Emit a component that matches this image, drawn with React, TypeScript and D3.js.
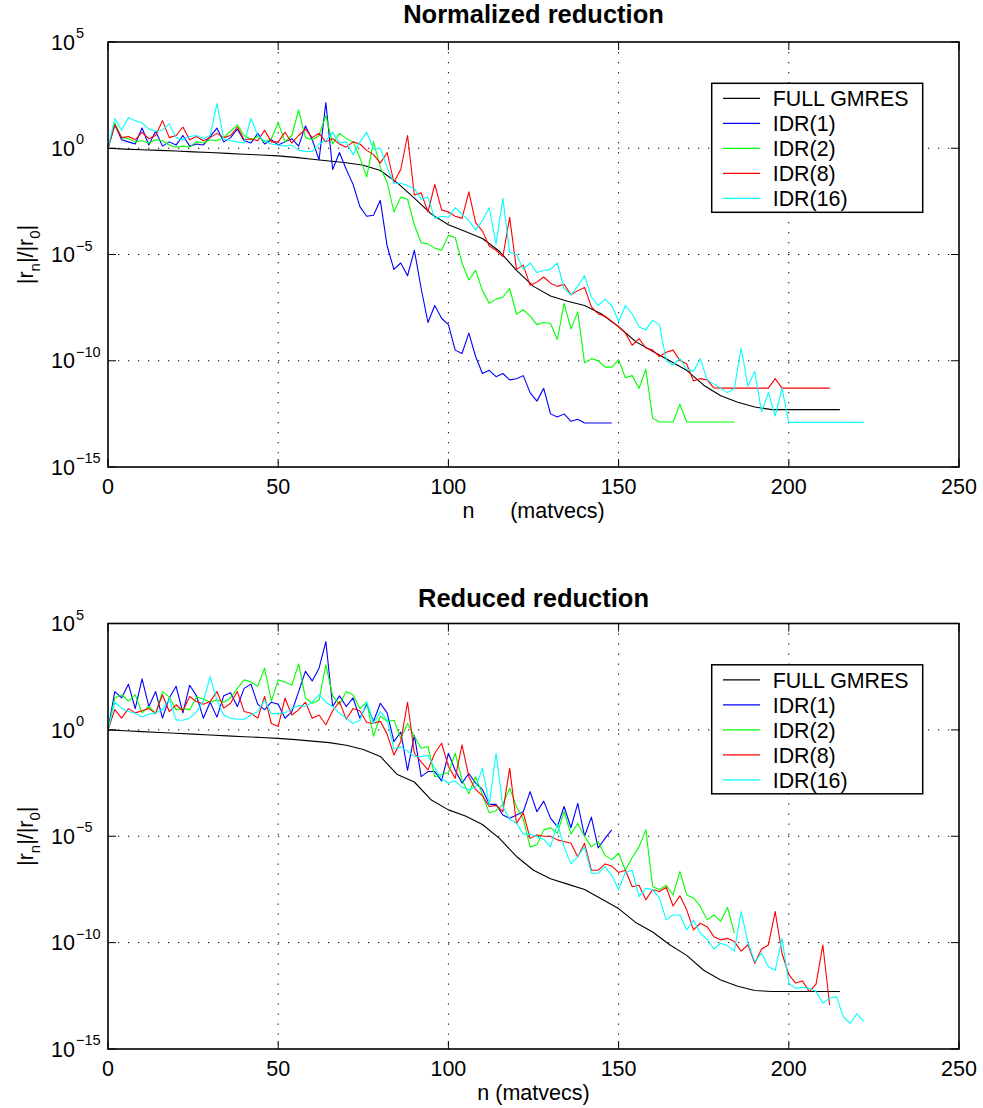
import React from 'react';
import * as d3 from 'd3';

// ---------- data (log10 of |r_n|/|r_0|) ----------
const IDR_STEP = 2; // matvecs between stored IDR samples
const GMRES_STEP = 5; // matvecs between stored GMRES samples

const titles = ['Normalized reduction', 'Reduced reduction'];
const xLabels = ['n      (matvecs)', 'n (matvecs)'];
const xTicks = [0, 50, 100, 150, 200, 250];
const yTickExps = [5, 0, -5, -10, -15];
const xGrid = [50, 100, 150, 200];
const yGridExps = [0, -5, -10];
const seriesNames = ['FULL GMRES', 'IDR(1)', 'IDR(2)', 'IDR(8)', 'IDR(16)'];
const seriesColors = ['#000000', '#0000ff', '#00ff00', '#ff0000', '#00ffff'];

// ---- top panel ----
const gmresTop = [
  0, -0.04, -0.07, -0.1, -0.13, -0.17, -0.2, -0.24, -0.28, -0.32,
  -0.36, -0.43, -0.52, -0.6, -0.68, -0.8, -1.05, -1.63, -2.35, -3.1,
  -3.6, -3.92, -4.25, -4.85, -5.75, -6.5, -6.95, -7.2, -7.4, -7.8,
  -8.4, -9.1, -9.55, -10.0, -10.45, -11.15, -11.65, -11.95, -12.18, -12.3,
  -12.3, -12.3, -12.3, -12.3,
];
const idr1Top = [
  0, 1.1, 0.4, 0.3, 0.2, 0.95, 0.15, 0.8, 0.1, 0.3,
  0.15, 0.6, 0.1, 0.2, 0.15, 0.55, 0.95, 0.3, 0.5, 0.9,
  0.35, 0.25, 0.7, 0.2, 0.4, 0.15, 0.3, 0.45, 0.1, 1.05,
  0.4, -0.55, 2.15, -1.0, -0.2, -1.0, -1.7, -2.75, -3.2, -3.15,
  -2.45, -4.6, -5.7, -5.4, -6.0, -4.8, -6.6, -8.2, -7.4, -8.0,
  -8.3, -9.5, -9.66, -8.7, -9.8, -10.6, -10.45, -10.75, -10.6, -10.9,
  -10.85, -10.7, -11.5, -11.9, -11.3, -12.5, -12.65, -12.5, -12.85, -12.75,
  -12.93, -12.93, -12.93, -12.93, -12.93,
];
const idr2Top = [
  0, 1.2, 0.5, 0.45, 0.3, 0.35, 0.25, 0.4, 0.35, 0.15,
  0.05, 0.1, 0.05, 0.3, 0.25, 0.4, 0.35, 0.5, 0.8, 1.1,
  0.6, 0.4, 0.55, 0.3, 0.45, 1.2, 0.3, 0.6, 1.8, 0.5,
  0.4, 0.6, 1.55, 0.2, 0.7, 0.45, 0.3, -0.45, -1.35, 0.3,
  -0.9, -1.6, -3.0, -2.3, -2.4, -3.6, -4.45, -4.5, -4.7, -4.8,
  -4.1, -4.2, -5.4, -6.2, -5.75, -6.7, -7.3, -7.1, -7.0, -6.6,
  -7.8, -7.6, -7.9, -8.3, -8.2, -8.25, -9.0, -7.3, -8.5, -7.7,
  -10.1, -9.9, -10.0, -10.3, -10.3, -9.95, -10.8, -10.7, -11.3, -10.4,
  -12.7, -12.88, -12.88, -12.88, -12.05, -12.88, -12.88, -12.88, -12.88, -12.88,
  -12.88, -12.88, -12.88,
];
const idr8Top = [
  0, 1.1, 0.5, 0.55, 0.4, 0.75, 0.45, 0.6, 1.3, 0.5,
  0.6, 1.0, 0.4, 0.55, 0.35, 0.5, 0.7, 0.5, 0.6, 1.0,
  0.4, 0.45, 0.35, 0.85, 0.3, 0.3, 0.75, 0.25, 0.6, 0.9,
  0.5, 0.7, 0.3, 0.45, 0.2, 0.05, 0.3, 0.2, -0.1, -0.3,
  -0.7, -0.2, -1.6, -1.0, 0.6, -2.2, -2.1, -3.0, -1.7, -2.9,
  -3.0, -3.2, -3.3, -2.05, -3.5, -3.9, -4.6, -4.8, -5.1, -3.25,
  -5.7, -5.5, -6.45, -6.3, -6.06, -6.35, -6.5, -6.4, -6.9, -6.7,
  -6.55, -7.45, -7.8, -7.9, -8.15, -8.4, -8.7, -9.27, -8.96, -9.4,
  -9.5, -9.8, -9.6, -9.5, -9.98, -10.15, -10.95, -10.84, -10.9, -11.28,
  -11.29, -11.29, -11.29, -11.29, -11.29, -11.29, -11.29, -11.29, -10.84, -11.29,
  -11.29, -11.29, -11.29, -11.29, -11.29, -11.29, -11.29,
];
const idr16Top = [
  0, 1.4, 0.85, 1.45, 1.3, 1.2, 0.9, 0.8, 0.85, 1.15,
  0.5, 0.4, 0.55, 0.6, 0.45, 0.6, 2.1, 0.45, 0.35, 0.3,
  0.25, 1.4, 0.6, 0.35, 0.2, 0.15, 0.1, 0.15, -0.1, -0.15,
  -0.15, 0.2, 0.35, 0.75, 0.25, 0.3, -0.3, 0.3, 0.75, -0.05,
  0.0, -0.9, -1.65, -1.65, -1.75, -1.9, -2.4, -2.3, -3.3, -3.2,
  -3.25, -2.8, -3.1, -3.4, -3.85, -3.4, -2.8, -4.5, -2.35, -4.9,
  -5.0, -5.7, -5.4, -5.85, -5.75, -5.7, -5.4, -6.6, -6.9, -6.5,
  -6.0, -7.0, -7.4, -7.1, -7.4, -8.15, -7.4, -7.8, -8.4, -8.55,
  -8.1, -8.3, -10.0, -10.2, -9.9, -10.4, -10.5, -9.9, -10.9, -11.1,
  -11.3, -11.5, -11.3, -9.4, -11.2, -10.5, -12.4, -11.5, -12.6, -11.3,
  -12.9, -12.9, -12.9, -12.9, -12.9, -12.9, -12.9, -12.9, -12.9, -12.9,
  -12.9, -12.9,
];

// ---- bottom panel ----
const gmresBot = [
  0, -0.04, -0.08, -0.12, -0.16, -0.2, -0.24, -0.28, -0.32, -0.36,
  -0.4, -0.46, -0.53, -0.6, -0.72, -0.92, -1.25, -2.1, -2.45, -3.3,
  -3.76, -4.05, -4.45, -5.1, -5.95, -6.6, -7.0, -7.25, -7.5, -7.95,
  -8.4, -9.05, -9.5, -10.1, -10.6, -11.3, -11.76, -12.05, -12.25, -12.3,
  -12.3, -12.3, -12.3, -12.3,
];
const idr1Bot = [
  0, 1.8, 1.5, 2.15, 1.0, 2.4, 1.1, 1.8, 0.55, 1.5,
  2.05, 0.8, 2.1, 1.6, 0.55, 1.3, 0.6, 1.6, 1.75, 1.1,
  1.95, 2.15, 1.2, 0.95, 1.3, 1.2, 0.55, 0.85, 1.8, 2.75,
  2.3, 2.9, 4.15, 1.1, 1.6, 1.1, 1.5, 0.55, 1.2, 0.4,
  1.25, 0.8, -0.55, -0.1, -1.9, -0.25, -2.2, -1.96, -1.96, -2.4,
  -1.1, -1.9, -2.5, -2.05, -2.5, -2.8, -3.5, -3.5, -4.0, -4.15,
  -4.0, -3.85, -2.9, -3.85, -3.35, -4.15, -4.55, -3.6, -4.6, -3.45,
  -5.0, -4.1, -5.55, -5.1, -4.7,
];
const idr2Bot = [
  0, 1.5, 1.65, 1.35, 1.65, 0.8, 1.1, 0.75, 1.8, 1.55,
  0.95, 1.0, 0.95, 1.55, 1.45, 1.3, 1.4, 1.3, 1.5, 1.95,
  2.35, 2.25, 2.05, 2.9, 1.35, 2.35, 2.25, 2.1, 3.1, 1.5,
  1.25, 1.4, 3.05, 1.6, 1.2, 1.8, 1.65, 1.0, 1.3, -0.3,
  0.65, 0.4, 0.45, -0.4, 0.3, -0.3, -0.86, -0.78, -2.2, -2.1,
  -2.0, -1.1, -2.35, -3.0, -2.2, -3.05, -3.9, -3.8, -3.5, -2.75,
  -3.6, -4.2, -5.5, -5.4, -4.7, -4.6, -4.85, -3.85, -4.9, -4.4,
  -5.0, -5.5, -5.25, -5.9, -6.1, -5.8, -6.6, -6.0, -5.5, -4.7,
  -7.37, -7.5, -7.3, -7.76, -6.66, -7.76, -7.9, -8.3, -8.93, -8.7,
  -9.0, -8.34, -9.56,
];
const idr8Bot = [
  0, 0.95, 0.55, 1.0, 0.8, 0.9, 1.0, 0.78, 1.65, 0.86,
  1.18, 0.9, 1.57, 1.33, 1.2, 1.33, 1.8, 1.02, 1.25, 1.8,
  0.86, 0.78, 0.55, 1.57, 0.3, 0.16, 1.49, 0.7, 0.94, 1.3,
  0.55, 0.7, 0.24, 0.9, 1.33, 0.5, 1.0, 0.9, 0.35, 0.31,
  0.4, -0.2, -1.18, -0.55, 1.3, -1.1, -1.5, -1.88, -1.1, -0.63,
  -1.72, -2.27, -0.7, -2.2, -2.8, -3.1, -3.6, -3.55, -3.84, -1.8,
  -4.4, -3.9, -5.1, -4.94, -5.0, -5.0, -5.17, -5.25, -5.33, -5.96,
  -5.33, -6.6, -6.6, -6.3, -6.4, -6.7, -6.6, -7.37, -7.3, -7.99,
  -7.5, -7.6, -7.4, -8.28, -7.8, -8.46, -9.4, -9.09, -9.25, -9.72,
  -9.87, -9.8, -9.95, -10.4, -10.1, -10.97, -10.3, -10.11, -8.54, -10.5,
  -11.5, -11.9, -11.8, -12.3, -11.95, -10.11, -12.93,
];
const idr16Bot = [
  0, 1.3, 1.02, 0.86, 0.78, 0.6, 0.75, 0.8, 0.95, 1.45,
  0.47, 0.45, 0.55, 0.85, 1.35, 2.5, 1.4, 0.7, 0.55, 0.5,
  0.5, 0.7, 0.86, 1.4, 0.75, 0.78, 0.8, 1.0, 1.15, 1.1,
  1.3, 1.65, 1.3, 1.1, 0.78, 0.55, 0.3, 0.45, 1.33, 0.3,
  0.86, 0.47, -0.9, -0.8, -1.0, -1.25, -1.25, -1.2, -1.8, -2.3,
  -2.5, -2.4, -2.7, -2.8, -2.7, -1.8, -3.53, -1.1, -3.6, -4.2,
  -4.39, -4.9, -4.9, -5.02, -5.15, -5.5, -4.4, -5.5, -6.3, -5.96,
  -5.5, -6.74, -6.74, -6.43, -6.85, -7.5, -6.7, -6.6, -7.84, -7.45,
  -7.5, -7.92, -8.93, -8.7, -8.7, -9.4, -8.95, -9.56, -9.85, -10.3,
  -10.03, -10.15, -10.4, -8.54, -10.0, -10.9, -10.5, -11.13, -11.3, -9.8,
  -11.91, -12.15, -12.1, -12.15, -12.3, -12.85, -12.6, -12.54, -13.48, -13.79,
  -13.35, -13.7,
];

// ---------- layout ----------
const W = 983;
const H = 1108;
const PLOT_LEFT = 108;
const PLOT_RIGHT = 959;
const FONT = "'Liberation Sans', Arial, Helvetica, sans-serif";

const panels = [
  {
    top: 42, bottom: 467, titleY: 23.3, title: titles[0], xLabel: xLabels[0],
    series: [gmresTop, idr1Top, idr2Top, idr8Top, idr16Top],
  },
  {
    top: 623.5, bottom: 1049, titleY: 606.5, title: titles[1], xLabel: xLabels[1],
    series: [gmresBot, idr1Bot, idr2Bot, idr8Bot, idr16Bot],
  },
];

function supText(e: number) {
  return e < 0 ? '\u2212' + String(-e) : String(e);
}

function Panel({ p }: { p: typeof panels[number] }) {
  const x = d3.scaleLinear().domain([0, 250]).range([PLOT_LEFT, PLOT_RIGHT]);
  const y = d3.scaleLog().domain([1e-15, 1e5]).range([p.bottom, p.top]);
  const cx = (PLOT_LEFT + PLOT_RIGHT) / 2;
  const cy = (p.top + p.bottom) / 2;
  const tickLen = 8;

  const mkLine = (step: number) =>
    d3
      .line<number>()
      .x((_d, i) => x(i * step))
      .y((d) => y(Math.pow(10, d)));

  const legX = PLOT_RIGHT - 247.3;
  const legY = p.top + 41.3;
  const legW = 211;
  const legH = 129;

  return (
    <g>
      {/* title */}
      <text x={cx} y={p.titleY} textAnchor="middle" fontFamily={FONT} fontWeight="bold" fontSize={25.5}>
        {p.title}
      </text>

      {/* grid */}
      {xGrid.map((v) => (
        <line key={'gx' + v} x1={x(v)} x2={x(v)} y1={p.top} y2={p.bottom}
          stroke="#000" strokeWidth={1} strokeDasharray="1.3,8.7" />
      ))}
      {yGridExps.map((e) => (
        <line key={'gy' + e} x1={PLOT_LEFT} x2={PLOT_RIGHT} y1={y(Math.pow(10, e))} y2={y(Math.pow(10, e))}
          stroke="#000" strokeWidth={1} strokeDasharray="1.3,8.7" />
      ))}

      {/* ticks */}
      {xTicks.map((v) => (
        <g key={'tx' + v}>
          <line x1={x(v)} x2={x(v)} y1={p.bottom} y2={p.bottom - tickLen} stroke="#000" strokeWidth={1} />
          <line x1={x(v)} x2={x(v)} y1={p.top} y2={p.top + tickLen} stroke="#000" strokeWidth={1} />
          <text x={x(v)} y={p.bottom + 27} textAnchor="middle" fontFamily={FONT} fontSize={21.5}>
            {v}
          </text>
        </g>
      ))}
      {yTickExps.map((e) => {
        const ty = y(Math.pow(10, e));
        return (
          <g key={'ty' + e}>
            <line x1={PLOT_LEFT} x2={PLOT_LEFT + tickLen} y1={ty} y2={ty} stroke="#000" strokeWidth={1} />
            <line x1={PLOT_RIGHT} x2={PLOT_RIGHT - tickLen} y1={ty} y2={ty} stroke="#000" strokeWidth={1} />
            <text x={51} y={ty + 7.7} fontFamily={FONT} fontSize={21.5}>
              10
              <tspan dx={1} dy={-11.5} fontSize={14.5}>
                {supText(e)}
              </tspan>
            </text>
          </g>
        );
      })}

      {/* series */}
      {p.series.map((arr, si) => (
        <path key={'s' + si} d={mkLine(si === 0 ? GMRES_STEP : IDR_STEP)(arr) || ''}
          fill="none" stroke={seriesColors[si]} strokeWidth={1.1} strokeLinejoin="round" />
      ))}

      {/* axes box */}
      <rect x={PLOT_LEFT} y={p.top} width={PLOT_RIGHT - PLOT_LEFT} height={p.bottom - p.top}
        fill="none" stroke="#000" strokeWidth={1.6} />

      {/* x label */}
      <text x={cx} y={p.bottom + 51.3} textAnchor="middle" fontFamily={FONT} fontSize={21.5}
        style={{ whiteSpace: 'pre' }}>
        {p.xLabel}
      </text>

      {/* y label */}
      <text transform={`translate(33,${cy}) rotate(-90)`} textAnchor="middle" fontFamily={FONT} fontSize={21.5}>
        |r<tspan dy={7} fontSize={15}>n</tspan>
        <tspan dy={-7}>|/|r</tspan>
        <tspan dy={7} fontSize={15}>0</tspan>
        <tspan dy={-7}>|</tspan>
      </text>

      {/* legend */}
      <rect x={legX} y={legY} width={legW} height={legH} fill="#fff" stroke="#000" strokeWidth={1.5} />
      {seriesNames.map((name, i) => {
        const by = p.top + 64 + 25 * i;
        return (
          <g key={'lg' + i}>
            <line x1={legX + 11.3} x2={legX + 48.3} y1={by - 7.7} y2={by - 7.7} stroke={seriesColors[i]} strokeWidth={1.2} />
            <text x={legX + 61} y={by} fontFamily={FONT} fontSize={21.4}>
              {name}
            </text>
          </g>
        );
      })}
    </g>
  );
}

export default function App() {
  return (
    <div style={{ position: 'absolute', left: 0, top: 0, width: W, height: H, background: '#fff' }}>
      <svg width={W} height={H} viewBox={`0 0 ${W} ${H}`} style={{ display: 'block' }}>
        <rect x={0} y={0} width={W} height={H} fill="#fff" />
        {panels.map((p, i) => (
          <Panel key={i} p={p} />
        ))}
      </svg>
    </div>
  );
}
